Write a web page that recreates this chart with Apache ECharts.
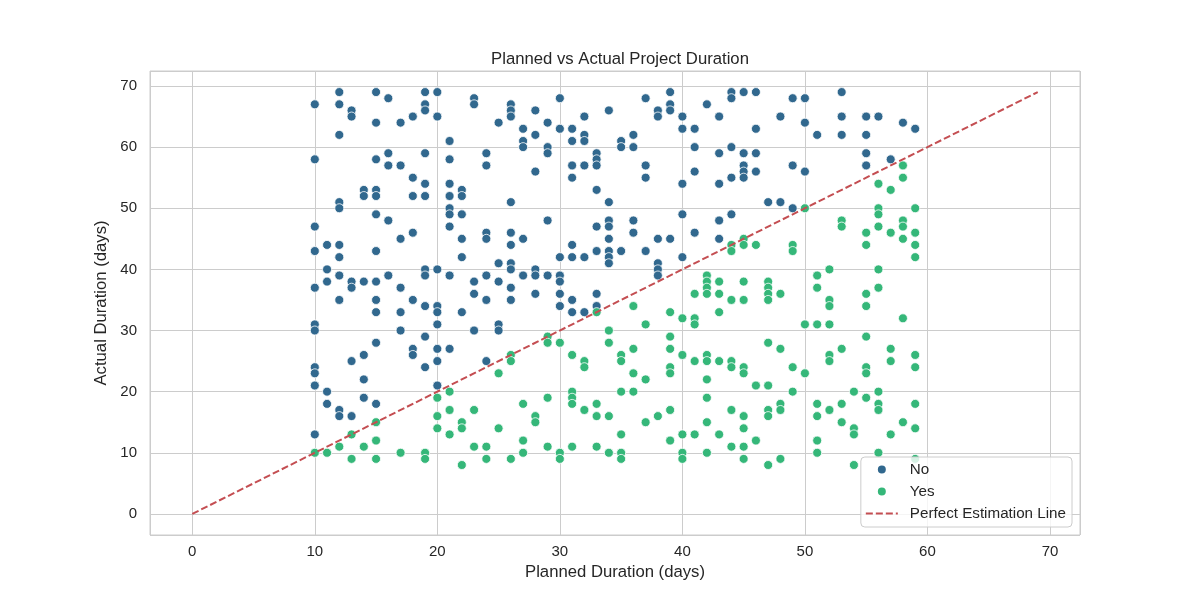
<!DOCTYPE html>
<html>
<head>
<meta charset="utf-8">
<title>Planned vs Actual Project Duration</title>
<script src="https://cdn.jsdelivr.net/npm/echarts@6/dist/echarts.min.js"></script>
<style>
  html, body { margin: 0; padding: 0; background: #ffffff; }
  #chart { width: 1200px; height: 600px; }
</style>
</head>
<body>
<div id="chart"></div>
<script>
// [planned, actual] pairs
const noPoints = [
  [10,67],[10,58],[10,47],[10,43],[10,37],[10,31],[10,30],[10,24],[10,23],[10,21],[10,13],
  [11,44],[11,40],[11,38],[11,20],[11,18],
  [12,69],[12,67],[12,62],[12,51],[12,50],[12,44],[12,42],[12,39],[12,35],[12,17],[12,16],
  [13,66],[13,65],[13,38],[13,37],[13,25],[13,16],
  [14,53],[14,52],[14,38],[14,26],[14,22],[14,19],
  [15,69],[15,64],[15,58],[15,53],[15,52],[15,49],[15,43],[15,38],[15,35],[15,33],[15,28],[15,18],
  [16,68],[16,59],[16,57],[16,48],[16,39],
  [17,64],[17,57],[17,45],[17,37],[17,33],[17,30],
  [18,65],[18,55],[18,52],[18,46],[18,35],[18,27],[18,26],
  [19,69],[19,67],[19,66],[19,59],[19,54],[19,52],[19,40],[19,39],[19,34],[19,29],[19,24],
  [20,69],[20,65],[20,40],[20,34],[20,33],[20,31],[20,27],[20,25],[20,21],
  [21,61],[21,58],[21,54],[21,52],[21,50],[21,49],[21,47],[21,39],[21,27],
  [22,53],[22,52],[22,49],[22,45],[22,42],[22,33],
  [23,68],[23,67],[23,38],[23,36],[23,30],
  [24,59],[24,57],[24,46],[24,45],[24,39],[24,35],[24,25],
  [25,64],[25,41],[25,38],[25,31],[25,30],
  [26,67],[26,66],[26,65],[26,51],[26,46],[26,44],[26,41],[26,40],[26,37],[26,35],
  [27,63],[27,61],[27,60],[27,45],[27,39],
  [28,66],[28,62],[28,56],[28,40],[28,39],[28,36],
  [29,64],[29,60],[29,59],[29,48],[29,39],
  [30,68],[30,63],[30,42],[30,39],[30,38],[30,36],[30,34],
  [31,63],[31,61],[31,57],[31,55],[31,44],[31,42],[31,35],[31,33],
  [32,65],[32,62],[32,61],[32,57],[32,42],[32,33],
  [33,59],[33,58],[33,57],[33,53],[33,47],[33,43],[33,36],[33,34],
  [34,66],[34,51],[34,48],[34,47],[34,45],[34,43],[34,42],[34,41],
  [35,61],[35,60],[35,43],
  [36,62],[36,60],[36,48],[36,46],
  [37,68],[37,57],[37,55],[37,43],
  [38,66],[38,65],[38,45],[38,41],[38,40],[38,39],
  [39,69],[39,67],[39,66],[39,45],
  [40,65],[40,63],[40,54],[40,49],[40,42],
  [41,63],[41,60],[41,56],[41,46],
  [42,67],
  [43,65],[43,59],[43,54],[43,48],[43,45],
  [44,69],[44,68],[44,60],[44,55],[44,49],
  [45,69],[45,59],[45,57],[45,56],[45,55],
  [46,69],[46,63],[46,59],[46,56],
  [47,51],
  [48,65],[48,51],
  [49,68],[49,57],[49,50],
  [50,68],[50,64],[50,56],
  [51,62],
  [53,69],[53,65],[53,62],
  [55,65],[55,62],[55,59],[55,57],
  [56,65],
  [57,58],
  [58,64],
  [59,63]
];

const yesPoints = [
  [10,10],[11,10],[12,11],[13,13],[13,9],[14,11],
  [15,15],[15,12],[15,9],[17,10],[19,10],[19,9],
  [20,19],[20,16],[20,14],
  [21,20],[21,17],[21,13],
  [22,15],[22,14],[22,8],
  [23,17],[23,11],
  [24,11],[24,9],
  [25,23],[25,14],
  [26,26],[26,25],[26,9],
  [27,18],[27,12],[27,10],
  [28,16],[28,15],
  [29,29],[29,28],[29,19],[29,11],
  [30,28],[30,10],[30,9],
  [31,26],[31,20],[31,19],[31,18],[31,11],
  [32,25],[32,24],[32,17],
  [33,33],[33,18],[33,16],[33,11],
  [34,30],[34,28],[34,16],[34,10],
  [35,26],[35,25],[35,20],[35,13],[35,10],[35,9],
  [36,34],[36,27],[36,23],[36,20],
  [37,31],[37,22],[37,15],
  [38,16],
  [39,33],[39,29],[39,27],[39,24],[39,23],[39,17],[39,12],
  [40,32],[40,26],[40,13],[40,10],[40,9],
  [41,36],[41,32],[41,31],[41,25],[41,13],
  [42,39],[42,38],[42,37],[42,36],[42,26],[42,25],[42,22],[42,19],[42,15],[42,10],
  [43,38],[43,36],[43,33],[43,25],[43,13],
  [44,44],[44,43],[44,35],[44,25],[44,24],[44,17],[44,11],
  [45,45],[45,44],[45,38],[45,35],[45,24],[45,23],[45,16],[45,14],[45,11],[45,9],
  [46,44],[46,21],[46,12],
  [47,38],[47,37],[47,36],[47,35],[47,28],[47,21],[47,17],[47,16],[47,8],
  [48,36],[48,27],[48,18],[48,17],[48,9],
  [49,44],[49,43],[49,24],[49,20],
  [50,50],[50,31],[50,23],
  [51,39],[51,37],[51,31],[51,18],[51,16],[51,12],[51,10],
  [52,40],[52,35],[52,34],[52,31],[52,26],[52,25],[52,17],
  [53,48],[53,47],[53,27],[53,18],[53,15],
  [54,20],[54,14],[54,13],[54,8],
  [55,46],[55,44],[55,36],[55,34],[55,29],[55,24],[55,23],[55,19],
  [56,54],[56,50],[56,49],[56,47],[56,40],[56,37],[56,20],[56,18],[56,17],[56,10],
  [57,53],[57,46],[57,27],[57,25],[57,13],
  [58,57],[58,55],[58,48],[58,47],[58,45],[58,32],[58,15],
  [59,50],[59,46],[59,44],[59,42],[59,26],[59,24],[59,18],[59,14],[59,9]
];

const perfectLine = [[0, 0], [69, 69]];
const axisMin = -3.45;
const axisMax = 72.45;

const textColor = '#262626';
const gridColor = '#cccccc';
const fontFamily = '"Liberation Sans", Arial, sans-serif';

const chart = echarts.init(document.getElementById('chart'));

function valueAxis(name, nameGap, labelMargin) {
  return {
    type: 'value',
    min: axisMin,
    max: axisMax,
    splitNumber: 8,
    name: name,
    nameLocation: 'middle',
    nameGap: nameGap,
    nameTextStyle: { color: textColor, fontSize: 16.7, fontFamily: fontFamily },
    axisLine: { show: false },
    axisTick: { show: false },
    axisLabel: {
      color: textColor,
      fontSize: 15,
      fontFamily: fontFamily,
      margin: labelMargin,
      showMinLabel: false,
      showMaxLabel: false
    },
    splitLine: { show: true, lineStyle: { color: gridColor, width: 1 } }
  };
}

const option = {
  backgroundColor: '#ffffff',
  animation: false,
  title: {
    text: 'Planned vs Actual Project Duration',
    left: 615,
    top: 46,
    textAlign: 'center',
    textStyle: { color: textColor, fontSize: 16.7, fontWeight: 'normal', fontFamily: fontFamily }
  },
  grid: {
    left: 150,
    right: 120,
    top: 71,
    bottom: 65,
    show: true,
    borderColor: gridColor,
    borderWidth: 1,
    backgroundColor: 'transparent'
  },
  xAxis: valueAxis('Planned Duration (days)', 29, 9),
  yAxis: valueAxis('Actual Duration (days)', 37, 13),
  legend: {
    orient: 'vertical',
    right: 128,
    bottom: 73,
    padding: [5, 6, 6, 4],
    itemGap: 7,
    itemWidth: 32,
    itemHeight: 10,
    backgroundColor: 'rgba(255,255,255,0.8)',
    borderColor: gridColor,
    borderWidth: 1,
    borderRadius: 4,
    textStyle: { color: textColor, fontSize: 15.2, fontFamily: fontFamily, padding: [0, 0, 0, 7] },
    data: [
      { name: 'No', icon: 'circle' },
      { name: 'Yes', icon: 'circle' },
      { name: 'Perfect Estimation Line', itemStyle: { color: 'rgba(0,0,0,0)', borderWidth: 0 } }
    ]
  },
  series: [
    {
      name: 'No',
      type: 'scatter',
      data: noPoints,
      symbolSize: 9,
      itemStyle: { color: '#31688e', borderColor: '#ffffff', borderWidth: 0.8, opacity: 1 }
    },
    {
      name: 'Yes',
      type: 'scatter',
      data: yesPoints,
      symbolSize: 9,
      itemStyle: { color: '#35b779', borderColor: '#ffffff', borderWidth: 0.8, opacity: 1 }
    },
    {
      name: 'Perfect Estimation Line',
      type: 'line',
      data: perfectLine,
      symbol: 'none',
      silent: true,
      lineStyle: { color: '#c44e52', width: 2, type: [7, 3] },
      itemStyle: { color: '#c44e52' }
    }
  ]
};

chart.setOption(option);
</script>
</body>
</html>
